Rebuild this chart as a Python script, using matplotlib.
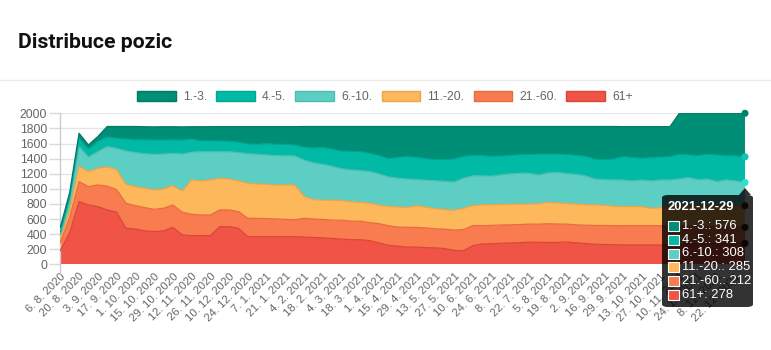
import matplotlib
matplotlib.use('Agg')
import matplotlib.pyplot as plt
import numpy as np
from matplotlib.patches import Patch, FancyBboxPatch, Rectangle, Polygon
from matplotlib.lines import Line2D

# ---------------- data ----------------
dates = [
    "6. 8. 2020", "13. 8. 2020", "20. 8. 2020", "27. 8. 2020", "3. 9. 2020", "10. 9. 2020",
    "17. 9. 2020", "24. 9. 2020", "1. 10. 2020", "8. 10. 2020", "15. 10. 2020", "22. 10. 2020",
    "29. 10. 2020", "5. 11. 2020", "12. 11. 2020", "19. 11. 2020", "26. 11. 2020", "3. 12. 2020",
    "10. 12. 2020", "17. 12. 2020", "24. 12. 2020", "31. 12. 2020", "7. 1. 2021", "14. 1. 2021",
    "21. 1. 2021", "28. 1. 2021", "4. 2. 2021", "11. 2. 2021", "18. 2. 2021", "25. 2. 2021",
    "4. 3. 2021", "11. 3. 2021", "18. 3. 2021", "25. 3. 2021", "1. 4. 2021", "8. 4. 2021",
    "15. 4. 2021", "22. 4. 2021", "29. 4. 2021", "6. 5. 2021", "13. 5. 2021", "20. 5. 2021",
    "27. 5. 2021", "3. 6. 2021", "10. 6. 2021", "17. 6. 2021", "24. 6. 2021", "1. 7. 2021",
    "8. 7. 2021", "15. 7. 2021", "22. 7. 2021", "29. 7. 2021", "5. 8. 2021", "12. 8. 2021",
    "19. 8. 2021", "26. 8. 2021", "2. 9. 2021", "9. 9. 2021", "16. 9. 2021", "23. 9. 2021",
    "29. 9. 2021", "6. 10. 2021", "13. 10. 2021", "20. 10. 2021", "27. 10. 2021", "3. 11. 2021",
    "10. 11. 2021", "17. 11. 2021", "24. 11. 2021", "1. 12. 2021", "8. 12. 2021", "15. 12. 2021",
    "22. 12. 2021", "29. 12. 2021",
]

series_names = ["1.-3.", "4.-5.", "6.-10.", "11.-20.", "21.-60.", "61+"]

pos_1_3 = [60, 60, 70, 56, 66, 140, 155, 165, 175, 174, 175, 177, 174, 175, 162, 188, 188, 189,
           193, 207, 228, 234, 223, 234, 234, 243, 273, 285, 278, 300, 325, 329, 334, 355, 385,
           427, 408, 399, 407, 427, 437, 437, 430, 395, 384, 385, 395, 392, 382, 374, 371, 366,
           366, 364, 372, 382, 395, 432, 439, 430, 397, 410, 419, 410, 403, 397, 543, 552, 561,
           543, 552, 561, 565, 576]
pos_4_5 = [40, 60, 105, 105, 133, 125, 135, 160, 170, 183, 190, 185, 178, 185, 175, 142, 142,
           142, 140, 137, 130, 132, 152, 150, 150, 145, 172, 195, 224, 228, 234, 246, 249, 242,
           243, 241, 277, 296, 295, 285, 282, 290, 305, 289, 269, 269, 262, 249, 245, 244, 250,
           276, 249, 245, 252, 251, 260, 263, 265, 278, 309, 309, 287, 309, 303, 309, 327, 300,
           319, 327, 353, 322, 331, 341]
pos_6_10 = [60, 110, 260, 193, 220, 270, 280, 440, 451, 458, 470, 462, 428, 489, 368, 388, 375,
            353, 360, 375, 392, 392, 388, 388, 388, 384, 480, 489, 473, 449, 421, 420, 421, 418,
            412, 390, 380, 377, 348, 356, 368, 371, 374, 399, 394, 384, 378, 392, 403, 410, 407,
            381, 389, 403, 396, 393, 380, 344, 341, 347, 353, 340, 353, 362, 366, 347, 350, 363,
            340, 352, 320, 342, 329, 308]
pos_11_20 = [40, 100, 205, 198, 221, 255, 265, 252, 252, 256, 257, 256, 256, 282, 455, 451, 464,
             419, 410, 406, 464, 456, 455, 451, 456, 461, 291, 256, 256, 263, 262, 259, 250, 259,
             247, 257, 266, 263, 287, 275, 268, 261, 263, 282, 264, 276, 274, 272, 272, 270, 265,
             270, 283, 279, 273, 276, 272, 272, 266, 259, 252, 252, 252, 230, 239, 265, 280, 285,
             282, 283, 283, 285, 285, 285]
pos_21_60 = [110, 200, 265, 243, 287, 315, 298, 331, 309, 309, 295, 300, 296, 300, 282, 273, 273,
             221, 221, 221, 243, 243, 239, 234, 229, 224, 249, 245, 244, 243, 249, 245, 245, 238,
             256, 259, 256, 260, 260, 261, 252, 258, 269, 281, 266, 241, 244, 242, 241, 241, 239,
             242, 249, 245, 237, 239, 243, 247, 252, 251, 256, 256, 256, 256, 256, 245, 235, 230,
             226, 220, 217, 213, 212, 212]
pos_61 = [180, 420, 830, 786, 764, 720, 692, 477, 468, 442, 433, 442, 490, 389, 380, 380, 380,
          499, 499, 477, 366, 366, 366, 366, 366, 366, 360, 355, 350, 342, 334, 326, 326, 313,
          282, 251, 238, 230, 228, 221, 218, 208, 184, 179, 248, 270, 272, 278, 282, 286, 293,
          290, 289, 289, 295, 284, 275, 267, 262, 260, 256, 256, 256, 256, 256, 260, 265, 270,
          272, 275, 275, 277, 278, 278]

y_ticks = [0, 200, 400, 600, 800, 1000, 1200, 1400, 1600, 1800, 2000]
tooltip_title = "2021-12-29"

fill_colors = ["#008e76", "#00baa6", "#5dcec3", "#fdb85b", "#f87c4f", "#ef5446"]
edge_colors = ["#007a65", "#00a593", "#4dbcb1", "#eaa44a", "#e86c40", "#dc4538"]
dot_colors = ["#00836d", "#13c4b3", "#2ce0d2", "#3a2a1a", "#3a2218", "#3a1c18"]

# ---------------- figure ----------------
W, H = 771, 350
fig = plt.figure(figsize=(W / 100, H / 100), dpi=100)
fig.patch.set_facecolor("white")

def fx(px):
    return px / W

def fy(py):
    return 1 - py / H

FONT = "Liberation Sans"
TXT = "#666666"

# header
fig.text(fx(18), fy(42), "Distribuce pozic", fontsize=15.3, fontweight="bold",
         family="Roboto", color="#111111", va="center", ha="left")
fig.add_artist(Line2D([0, 1], [fy(80), fy(80)], transform=fig.transFigure,
                      color="#ececec", lw=1))

left, right, top, bottom = 60.3, 745, 113.3, 264.3
ax = fig.add_axes([fx(left), fy(bottom), fx(right) - fx(left), fy(top) - fy(bottom)])

x = np.arange(len(dates))
stack_order = [pos_61, pos_21_60, pos_11_20, pos_6_10, pos_4_5, pos_1_3]
stack_idx = [5, 4, 3, 2, 1, 0]
base = np.zeros(len(dates))
tops = {}
for vals, k in zip(stack_order, stack_idx):
    v = np.array(vals, dtype=float)
    topv = base + v
    ax.fill_between(x, base, topv, facecolor=fill_colors[k], edgecolor="none", zorder=2 + (5 - k) * 0.01)
    ax.plot(x, topv, color=edge_colors[k], lw=0.9, zorder=3)
    tops[k] = topv
    base = topv

for k in range(6):
    ax.scatter([x[-1]], [tops[k][-1]], s=26, color=dot_colors[k], zorder=5, clip_on=False,
               edgecolors="none")

ax.set_xlim(0, len(dates) - 1)
ax.set_ylim(0, 2000)
ax.set_yticks(y_ticks)
ax.set_yticklabels([str(t) for t in y_ticks], fontsize=8.8, color=TXT, family=FONT)
ax.yaxis.grid(True, color="#e6e6e6", lw=1, zorder=0)
ax.set_axisbelow(True)
ax.tick_params(axis="y", length=8, width=1, color="#d9d9d9", pad=1.5)

ax.set_xticks(x[::2])
ax.set_xticklabels(dates[::2], rotation=45, ha="right", rotation_mode="anchor",
                   fontsize=8.2, color=TXT, family=FONT)
ax.tick_params(axis="x", length=0, pad=5)

for s in ["top", "right", "bottom"]:
    ax.spines[s].set_visible(False)
ax.spines["left"].set_color("#cccccc")
ax.spines["left"].set_linewidth(1)
ax.add_line(Line2D([0, 0], [0, -10 / 151], transform=ax.get_xaxis_transform(),
                   color="#cccccc", lw=1, clip_on=False))

# legend
handles = [Patch(facecolor=fill_colors[k], edgecolor=edge_colors[k], lw=1) for k in range(6)]
fig.legend(handles, series_names, loc="center", bbox_to_anchor=(fx(385), fy(97)), ncol=6,
           frameon=False, handlelength=3.2, handleheight=0.9, handletextpad=0.6,
           columnspacing=0.75, prop={"family": FONT, "size": 8.7}, labelcolor=TXT)

# tooltip
tl, tr, tt, tb = 662, 753, 195, 307
box = FancyBboxPatch((fx(tl), fy(tb)), fx(tr) - fx(tl), fy(tt) - fy(tb),
                     boxstyle="round,pad=0,rounding_size=0.008", transform=fig.transFigure,
                     facecolor=(0, 0, 0, 0.8), edgecolor="none", zorder=10)
fig.add_artist(box)
caret = Polygon([(fx(739), fy(tt)), (fx(745), fy(tt - 7)), (fx(751), fy(tt))], closed=True,
                transform=fig.transFigure, facecolor=(0, 0, 0, 0.8), edgecolor="none", zorder=10)
fig.add_artist(caret)
fig.text(fx(667), fy(207), tooltip_title, color="white", fontsize=9.4, fontweight="bold",
         family=FONT, va="center", ha="left", zorder=11)
row_y = [226, 240, 253.5, 267, 281, 295]
all_series = [pos_1_3, pos_4_5, pos_6_10, pos_11_20, pos_21_60, pos_61]
for k in range(6):
    ry = row_y[k]
    fig.add_artist(Rectangle((fx(668), fy(ry + 5)), fx(10.5), 10 / H, transform=fig.transFigure,
                             facecolor=fill_colors[k], edgecolor="white", lw=0.8, zorder=11))
    fig.text(fx(681.5), fy(ry), f"{series_names[k]}: {all_series[k][-1]}", color="white",
             fontsize=9.4, family=FONT, va="center", ha="left", zorder=11)

fig.savefig("out.png", dpi=100)
